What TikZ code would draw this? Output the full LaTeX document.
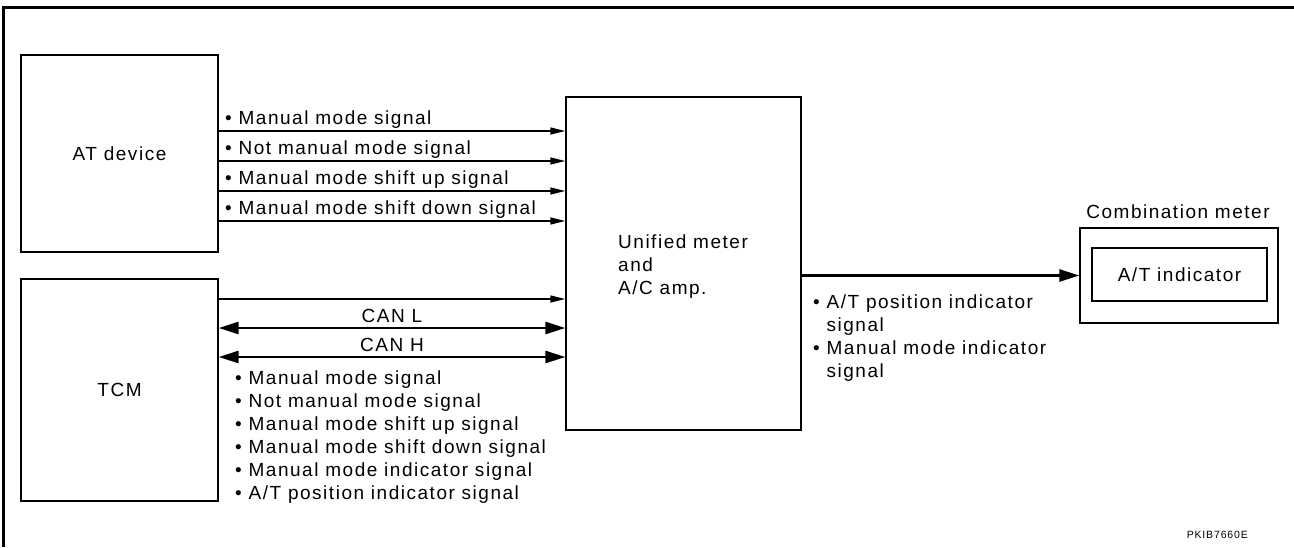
\documentclass[tikz,border=0pt]{standalone}
\usepackage{fontspec}
\setmainfont[LetterSpace=8]{Liberation Sans}
\usepackage{tikz}
\usetikzlibrary{arrows.meta}

\begin{document}
\begin{tikzpicture}[x=1pt, y=-1pt,
  every node/.style={inner sep=0pt, font=\fontsize{19}{23}\selectfont},
  unitbox/.style={draw, line width=1.3pt},
  sig/.style={line width=1.3pt, -{Triangle[length=15pt,width=7pt]}},
  bus/.style={line width=2.6pt, {Triangle[length=20pt,width=12pt]}-{Triangle[length=20pt,width=12pt]}},
  lbl/.style={anchor=base west, align=left}]
\useasboundingbox (0,0) rectangle (1294,547);
\draw[line width=3pt] (1294,7.5) -- (3.5,7.5) -- (3.5,547);

% units
\node[unitbox, minimum width=197pt, minimum height=197pt] (at) at (119.5,153.5) {AT device};
\node[unitbox, minimum width=197pt, minimum height=222pt] (tcm) at (119.5,390) {TCM};
\node[unitbox, minimum width=235pt, minimum height=333pt] (um) at (683.5,263.5) {};
\node[lbl] (umtxt) at (618,294.5) {Unified meter\\and\\A/C amp.};
\node[unitbox, minimum width=198pt, minimum height=95pt] (cm) at (1179,275.5) {};
\node[unitbox, minimum width=175pt, minimum height=53pt] (ind) at (1179.5,274.5) {A/T indicator};
\node (cmtxt) at (1178,212) {Combination meter};

% AT device -> meter
\foreach \y/\t [count=\i] in {131/Manual mode signal, 161/Not manual mode signal,
    191/Manual mode shift up signal, 221/Manual mode shift down signal} {
  \draw[sig] (at.east |- 0,\y) -- (um.west |- 0,\y);
  \node[anchor=base west] (atsig\i) at (225,\y-6.5) {• \t};
}

% TCM <-> meter
\draw[sig] (tcm.east |- 0,299) -- (um.west |- 0,299);
\draw[bus] (tcm.east |- 0,328) -- node[above=4.5pt] (canl) {CAN L} (um.west |- 0,328);
\draw[bus] (tcm.east |- 0,357) -- node[above=4.5pt] (canh) {CAN H} (um.west |- 0,357);
\node[lbl] (tcmsig) at (235,499.5) {• Manual mode signal\\• Not manual mode signal\\
  • Manual mode shift up signal\\• Manual mode shift down signal\\
  • Manual mode indicator signal\\• A/T position indicator signal};

% meter -> combination meter
\draw[line width=2.6pt, -{Triangle[length=20pt,width=12pt]}] (um.east |- cm.west) -- (cm.west);
\node[lbl] (outsig) at (813,377.5) {• A/T position indicator\\\hphantom{• }signal\\
  • Manual mode indicator\\\hphantom{• }signal};

\node[anchor=base east, font=\fontsize{10.5}{12}\selectfont] (code) at (1248,538) {PKIB7660E};
\end{tikzpicture}
\end{document}
